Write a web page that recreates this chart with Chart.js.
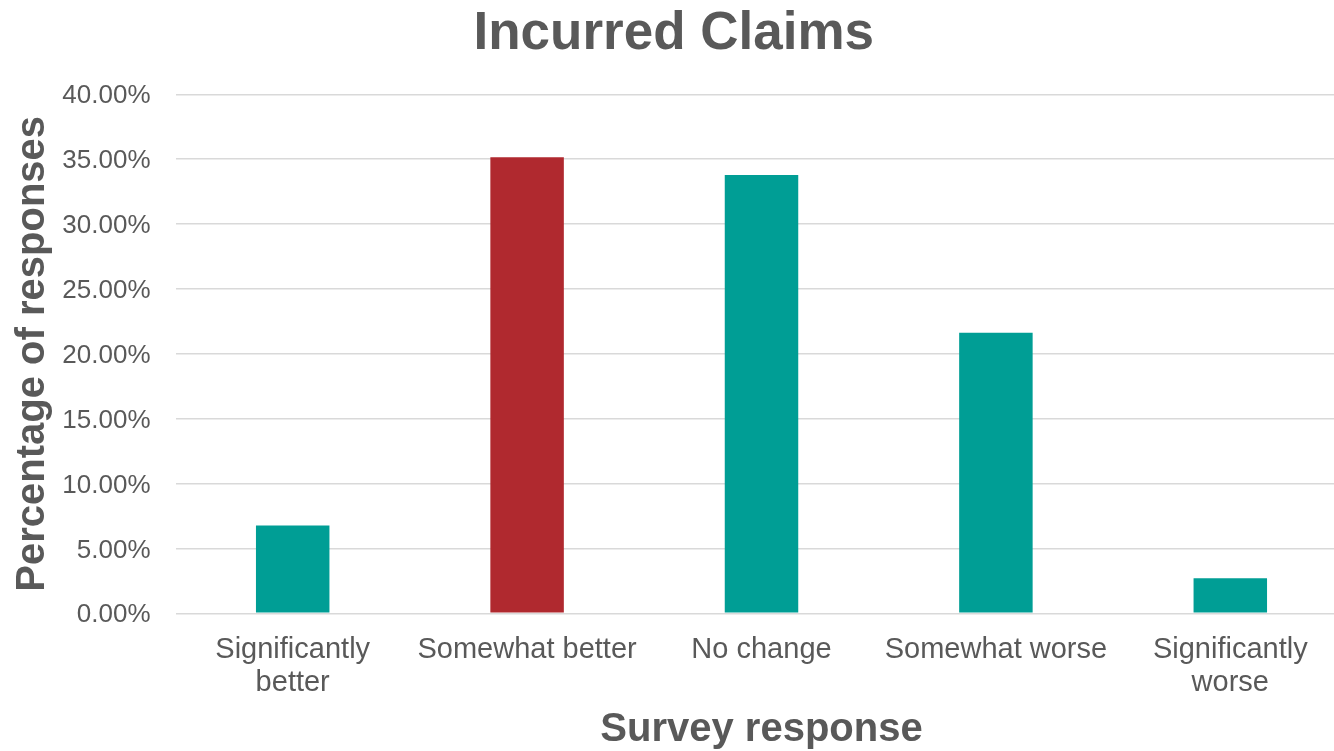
<!DOCTYPE html>
<html>
<head>
<meta charset="utf-8">
<title>Incurred Claims</title>
<script src="https://cdn.jsdelivr.net/npm/chart.js@4.4.1/dist/chart.umd.min.js"></script>
<style>
  html, body { margin: 0; padding: 0; background: #fff; overflow: hidden; }
  #wrap { width: 1350px; height: 751px; position: relative; }
</style>
</head>
<body>
<div id="wrap"><canvas id="grafClaims"></canvas></div>
<script>
// Survey results: share of responses per answer
const categories = [
  ['Significantly', 'better'],
  'Somewhat better',
  'No change',
  'Somewhat worse',
  ['Significantly', 'worse']
];
const responseShare = [6.76, 35.14, 33.78, 21.62, 2.70];
const yTicks = [0, 5, 10, 15, 20, 25, 30, 35, 40];
const barColors = ['#009E95', '#B0292F', '#009E95', '#009E95', '#009E95'];

const textColor = '#595959';
const fontFamily = 'Arial, "Liberation Sans", sans-serif';

document.addEventListener("DOMContentLoaded", () => {
  const ctx = document.getElementById('grafClaims');

  new Chart(ctx, {
    type: 'bar',
    data: {
      labels: categories,
      datasets: [{
        label: 'Percentage of responses',
        data: responseShare,
        backgroundColor: barColors,
        barPercentage: 0.3135,
        categoryPercentage: 1
      }]
    },
    options: {
      responsive: true,
      maintainAspectRatio: false,
      animation: false,
      layout: { padding: { left: 0, right: 2.5, top: 0, bottom: 0 } },
      plugins: {
        legend: { display: false },
        tooltip: { enabled: false },
        title: {
          display: true,
          text: 'Incurred Claims',
          color: textColor,
          font: { family: fontFamily, size: 53, weight: 'bold', lineHeight: 1.2 },
          padding: { top: 3, bottom: 27.7 }
        }
      },
      scales: {
        x: {
          grid: { display: false, drawTicks: false },
          border: { display: false },
          ticks: {
            color: textColor,
            padding: 20.5,
            maxRotation: 0,
            autoSkip: false,
            font: { family: fontFamily, size: 29, lineHeight: 1.13 }
          },
          title: {
            display: true,
            text: 'Survey response',
            color: textColor,
            font: { family: fontFamily, size: 40, weight: 'bold', lineHeight: 1.05 },
            padding: { top: 0, bottom: 0 }
          },
          afterFit: s => { s.height = 137.7; }
        },
        y: {
          min: 0,
          max: 40,
          afterBuildTicks: s => { s.ticks = yTicks.map(v => ({ value: v })); },
          grid: { color: '#D9D9D9', lineWidth: 1.5, drawTicks: false },
          border: { display: false },
          ticks: {
            color: textColor,
            padding: 25,
            labelOffset: 2,
            font: { family: fontFamily, size: 26 },
            callback: v => v.toFixed(2) + '%'
          },
          title: {
            display: true,
            text: 'Percentage of responses',
            color: textColor,
            font: { family: fontFamily, size: 40, weight: 'bold', lineHeight: 1.1 },
            padding: { top: 10.5, bottom: 0 }
          },
          afterFit: s => { s.width = 175.5; }
        }
      }
    }
  });
});
</script>
</body>
</html>
